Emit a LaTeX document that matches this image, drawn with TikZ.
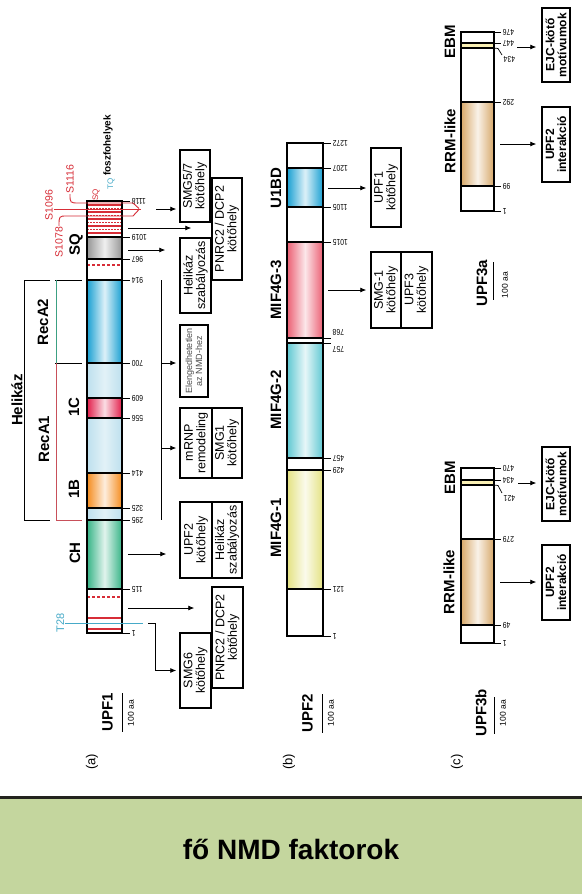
\documentclass[tikz,border=0pt]{standalone}
\usepackage{fontspec}
\setmainfont{Liberation Sans}
\newfontfamily\numfont[FakeStretch=0.8]{Liberation Sans}
\usetikzlibrary{arrows.meta,positioning,calc}

\definecolor{bluedom}{RGB}{25,160,210}
\definecolor{lightdom}{RGB}{190,224,238}
\definecolor{reddom}{RGB}{226,30,75}
\definecolor{orangedom}{RGB}{245,140,30}
\definecolor{greendom}{RGB}{55,180,135}
\definecolor{pinkdom}{RGB}{235,95,115}
\definecolor{cyandom}{RGB}{95,200,210}
\definecolor{yellowdom}{RGB}{228,226,130}
\definecolor{tandom}{RGB}{215,168,105}
\definecolor{greydom}{RGB}{150,150,150}
\definecolor{ebmyellow}{RGB}{250,240,180}
\definecolor{phred}{RGB}{215,45,55}
\definecolor{phcyan}{RGB}{70,170,200}
\definecolor{recared}{RGB}{200,80,90}
\definecolor{recateal}{RGB}{60,160,130}
\definecolor{bannergreen}{RGB}{196,214,158}
\definecolor{bannerline}{RGB}{35,35,30}

\begin{document}
\begin{tikzpicture}[x=1pt, y=-1pt,
  grad/.style={left color=#1, right color=#1, middle color=#1!15},
  lgrad/.style={left color=lightdom, right color=lightdom, middle color=lightdom!45},
  bnd/.style={line width=1.2pt},
  outline/.style={rectangle, draw, line width=1.4pt, inner sep=0pt},
  tk/.style={line width=0.7pt},
  num/.style={rotate=180, anchor=east, inner sep=1.5pt, font=\numfont\fontsize{8.5}{9}\selectfont},
  dom/.style={rotate=90, inner sep=0pt, font=\fontsize{15}{15}\selectfont\bfseries},
  prot/.style={rotate=90, inner sep=0pt, font=\fontsize{15}{15}\selectfont\bfseries},
  scl/.style={rotate=90, inner sep=0pt, font=\fontsize{8.5}{9}\selectfont},
  panel/.style={rotate=90, inner sep=0pt, font=\fontsize{13}{13}\selectfont},
  box/.style={rectangle, draw, line width=1.5pt, rotate=90, inner sep=0pt, align=center, font=\fontsize{12.5}{12.5}\selectfont},
  bbox/.style={box, font=\fontsize{12}{12}\selectfont\bfseries},
  arr/.style={-{Latex[length=6pt, width=5pt]}, line width=0.8pt},
  site/.style={rotate=90, inner sep=0.5pt, font=\fontsize{10.5}{11}\selectfont},
  hatch/.style={phred, line width=1.1pt},
  dotrow/.style={phred, line width=1.6pt, dash pattern=on 1.6pt off 1.4pt},
  reddash/.style={phred, line width=1.1pt, dash pattern=on 3pt off 2pt},
  phline/.style={phred, line width=0.9pt}]
  \useasboundingbox (0,0) rectangle (582,894);
  \fill[white] (0,0) rectangle (582,894);
  % (a) UPF1
  \foreach \yy in {205,212,219,226,233} \draw[hatch] (87,\yy) -- (122,\yy);
  \foreach \yy in {208.5,215.5,222.5,229.5} \draw[dotrow] (87,\yy) -- (122,\yy);
  \shade[grad=greydom] (87,237) rectangle (122,259);
  \draw[reddash] (87,265) -- (122,265);
  \shade[grad=bluedom] (87,280) rectangle (122,363);
  \shade[lgrad] (87,363) rectangle (122,398);
  \shade[grad=reddom] (87,398) rectangle (122,418);
  \shade[lgrad] (87,418) rectangle (122,473);
  \shade[grad=orangedom] (87,473) rectangle (122,508);
  \shade[lgrad] (87,508) rectangle (122,520);
  \shade[grad=greendom] (87,520) rectangle (122,589);
  \draw[reddash] (87,597) -- (122,597);
  \draw[phred, line width=1.1pt] (87,618) -- (122,618) (87,629) -- (122,629);
  \foreach \yy in {237,259,280,363,398,418,473,508,520,589} \draw[bnd] (87,\yy) -- (122,\yy);
  \node[outline, minimum width=35, minimum height=432] (upf1) at (104.5,417) {};
  \foreach \yy/\aa in {201/1118, 237/1019, 259/967, 280/914, 363/700, 398/609, 418/556, 473/414, 508/325, 520/295, 589/115, 633/1}
    \draw[tk] (122,\yy) -- (130,\yy) node[num] (u1n\aa) {\aa};
  % phosphorylation sites
  \node[site, phred, anchor=south] (s1096) at (53.5,205) {S1096};
  \node[site, phred, anchor=west] (s1116) at (70,194) {S1116};
  \node[site, phred, anchor=east] (s1078) at (59,226) {S1078};
  \draw[phline] (s1116.west) .. controls (70,203) .. (79,203) -- (133,203) -- (139,208.5);
  \draw[phline] (54,209) -- (141,209);
  \draw[phline] (s1078.east) .. controls (59,216) .. (67,216) -- (133,216) -- (139,209.5);
  \node[rotate=90, phred, inner sep=0pt, font=\fontsize{8}{8}\selectfont] (sqlab) at (96,195) {SQ};
  \node[rotate=90, phcyan, inner sep=0pt, font=\fontsize{8}{8}\selectfont] (tqlab) at (111,184) {TQ};
  \node[rotate=90, anchor=west, inner sep=0pt, font=\fontsize{10}{10}\selectfont\bfseries] (foszf) at (108,176) {foszfohelyek};
  \node[site, phcyan, anchor=south, font=\fontsize{11}{11}\selectfont] (t28) at (65,623) {T28};
  \draw[phcyan, line width=0.9pt] (t28.south) -- (143,623);
  % domains and brackets
  \node[dom] (sq) at (76,245) {SQ};
  \node[dom] (d1c) at (74,407) {1C};
  \node[dom] (d1b) at (74,489) {1B};
  \node[dom] (ch) at (75,553) {CH};
  \node[dom] (reca2) at (43,322) {RecA2};
  \node[dom] (reca1) at (44,439) {RecA1};
  \node[dom] (helikaz) at (17,400) {Helikáz};
  \draw[line width=1pt] (50,280) -- (24,280) -- (24,520) -- (50,520);
  \draw[line width=1pt] (55,280) -- (82,280) (55,363) -- (82,363);
  \draw[recateal, line width=1pt] (56,280) -- (56,363);
  \draw[recared, line width=1pt] (56,363) -- (56,520) -- (82,520);
  \draw[line width=0.8pt] (161,280) -- (161,520);
  % UPF1 partners
  \node[box, minimum width=72, minimum height=30] (smg57) at (195,186) {SMG5/7\\kötőhely};
  \node[box, minimum width=102, minimum height=30] (pnrca) at (227,229) {PNRC2 / DCP2\\kötőhely};
  \node[box, minimum width=75, minimum height=31] (helsza) at (195.5,275.5) {Helikáz\\szabályozás};
  \node[box, minimum width=72, minimum height=28, text=black!70, font=\fontsize{9}{10}\selectfont] (eleng) at (194,361) {Elengedhetetlen\\az NMD-hez};
  \node[box, minimum width=70, minimum height=32] (mrnp) at (196,443) {mRNP\\remodeling};
  \node[box, minimum width=70, minimum height=30] (smg1) at (227,443) {SMG1\\kötőhely};
  \node[box, minimum width=76, minimum height=32] (upf2k) at (196,540) {UPF2\\kötőhely};
  \node[box, minimum width=76, minimum height=30] (helszb) at (227,540) {Helikáz\\szabályozás};
  \node[box, minimum width=101, minimum height=31] (pnrcb) at (227.5,637.5) {PNRC2 / DCP2\\kötőhely};
  \node[box, minimum width=75, minimum height=31] (smg6) at (195.5,670.5) {SMG6\\kötőhely};
  \coordinate (a1) at (156,209);
  \coordinate (a2) at (128,228);
  \coordinate (a3) at (128,250);
  \coordinate (a4) at (161,363);
  \coordinate (a5) at (161,448);
  \coordinate (a6) at (128,554);
  \coordinate (a7) at (128,608);
  \coordinate (a8) at (148,623);
  \draw[arr, shorten >=3pt] (a1) -- (a1 -| smg57.north);
  \draw[arr, shorten >=20pt] (a2) -- (a2 -| pnrca.north);
  \draw[arr, shorten >=14pt] (a3) -- (a3 -| helsza.north);
  \draw[arr, shorten >=3pt] (a4) -- (a4 -| eleng.north);
  \draw[arr, shorten >=3pt] (a5) -- (a5 -| mrnp.north);
  \draw[arr, shorten >=13pt] (a6) -- (a6 -| upf2k.north);
  \draw[arr, shorten >=17pt] (a7) -- (a7 -| pnrcb.north);
  \draw[arr, shorten >=3pt] (a8) -- (155,623) |- (smg6.north);
  \node[prot] (upf1lab) at (107.5,712) {UPF1};
  \draw[line width=1pt] (122,693) -- (122,731.7);
  \node[scl] (upf1scl) at (131,713) {100 aa};
  \node[panel] (pa) at (92,762) {(a)};
  % (b) UPF2
  \shade[grad=bluedom] (287,168) rectangle (323,207);
  \shade[grad=pinkdom] (287,242) rectangle (323,338);
  \shade[grad=cyandom] (287,343) rectangle (323,458);
  \shade[grad=yellowdom] (287,470) rectangle (323,589);
  \foreach \yy in {168,207,242,338,343,458,470,589} \draw[bnd] (287,\yy) -- (323,\yy);
  \node[outline, minimum width=36, minimum height=493] (upf2) at (305,389.5) {};
  \foreach \yy/\aa in {143/1272, 168/1207, 207/1105, 242/1015, 458/457, 470/429, 589/121, 636/1}
    \draw[tk] (323,\yy) -- (331,\yy) node[num] (u2n\aa) {\aa};
  \draw[tk] (323,338) -- (331,338) (323,343) -- (331,343);
  \node[num] (u2n768) at (331,332.5) {768};
  \node[num] (u2n757) at (331,349) {757};
  \node[dom] (u1bd) at (276,188) {U1BD};
  \node[dom] (mif3) at (276,290) {MIF4G-3};
  \node[dom] (mif2) at (276,400) {MIF4G-2};
  \node[dom] (mif1) at (276,528) {MIF4G-1};
  \node[box, minimum width=79, minimum height=30] (upf1k) at (386,187.5) {UPF1\\kötőhely};
  \node[box, minimum width=76, minimum height=30] (smg1k) at (386,290) {SMG-1\\kötőhely};
  \node[box, minimum width=76, minimum height=31] (upf3k) at (416.5,290) {UPF3\\kötőhely};
  \coordinate (b1) at (328,188);
  \coordinate (b2) at (328,290);
  \draw[arr, shorten >=4pt] (b1) -- (b1 -| upf1k.north);
  \draw[arr, shorten >=4pt] (b2) -- (b2 -| smg1k.north);
  \node[prot] (upf2lab) at (307.5,713) {UPF2};
  \draw[line width=1pt] (322,694) -- (322,732.8);
  \node[scl] (upf2scl) at (331,713) {100 aa};
  \node[panel] (pb) at (289,762) {(b)};
  % (c) UPF3a
  \fill[ebmyellow] (461,43) rectangle (494,48);
  \shade[grad=tandom] (461,102) rectangle (494,186);
  \foreach \yy in {43,48,102,186} \draw[bnd] (461,\yy) -- (494,\yy);
  \node[outline, minimum width=33, minimum height=179] (upf3a) at (477.5,121.5) {};
  \foreach \yy/\aa in {32/476, 43/447, 102/292, 186/99, 211/1}
    \draw[tk] (494,\yy) -- (501,\yy) node[num] (u3an\aa) {\aa};
  \draw[tk] (494,48) -- (498,48.5) -- (502,55);
  \node[num] (u3an434) at (502,59.5) {434};
  \node[dom] (ebma) at (450,42) {EBM};
  \node[dom] (rrma) at (450,141) {RRM-like};
  \node[bbox, minimum width=74, minimum height=28] (ejca) at (556,45) {EJC-kötő\\motívumok};
  \node[bbox, minimum width=75, minimum height=28] (upf2ia) at (556,144.5) {UPF2\\interakció};
  \coordinate (c1) at (517,47);
  \coordinate (c2) at (500,144);
  \draw[arr, shorten >=5pt] (c1) -- (c1 -| ejca.north);
  \draw[arr, shorten >=5pt] (c2) -- (c2 -| upf2ia.north);
  \node[prot] (upf3alab) at (482,283) {UPF3a};
  \draw[line width=1pt] (493,262) -- (493,299.7);
  \node[scl] (upf3ascl) at (505,285) {100 aa};
  % (c) UPF3b
  \fill[ebmyellow] (461,480) rectangle (494,485);
  \shade[grad=tandom] (461,539) rectangle (494,625);
  \foreach \yy in {480,485,539,625} \draw[bnd] (461,\yy) -- (494,\yy);
  \node[outline, minimum width=33, minimum height=175] (upf3b) at (477.5,555.5) {};
  \foreach \yy/\aa in {468/470, 480/434, 539/279, 625/49, 643/1}
    \draw[tk] (494,\yy) -- (501,\yy) node[num] (u3bn\aa) {\aa};
  \draw[tk] (494,485) -- (498,485.5) -- (502,493);
  \node[num] (u3bn421) at (502,498.5) {421};
  \node[dom] (ebmb) at (450,478) {EBM};
  \node[dom] (rrmb) at (449,582) {RRM-like};
  \node[bbox, minimum width=74, minimum height=28] (ejcb) at (556,484) {EJC-kötő\\motívumok};
  \node[bbox, minimum width=75, minimum height=28] (upf2ib) at (556,582.5) {UPF2\\interakció};
  \coordinate (c3) at (518,483);
  \coordinate (c4) at (500,582);
  \draw[arr, shorten >=5pt] (c3) -- (c3 -| ejcb.north);
  \draw[arr, shorten >=5pt] (c4) -- (c4 -| upf2ib.north);
  \node[prot] (upf3blab) at (481,713) {UPF3b};
  \draw[line width=1pt] (494,697) -- (494,734);
  \node[scl] (upf3bscl) at (503,713) {100 aa};
  \node[panel] (pc) at (457,762) {(c)};
  % banner
  \fill[bannergreen] (0,799) rectangle (582,894);
  \draw[bannerline, line width=3pt] (0,797.5) -- (582,797.5);
  \node[font=\fontsize{28}{28}\selectfont\bfseries] (title) at (291,849) {fő NMD faktorok};
\end{tikzpicture}
\end{document}
